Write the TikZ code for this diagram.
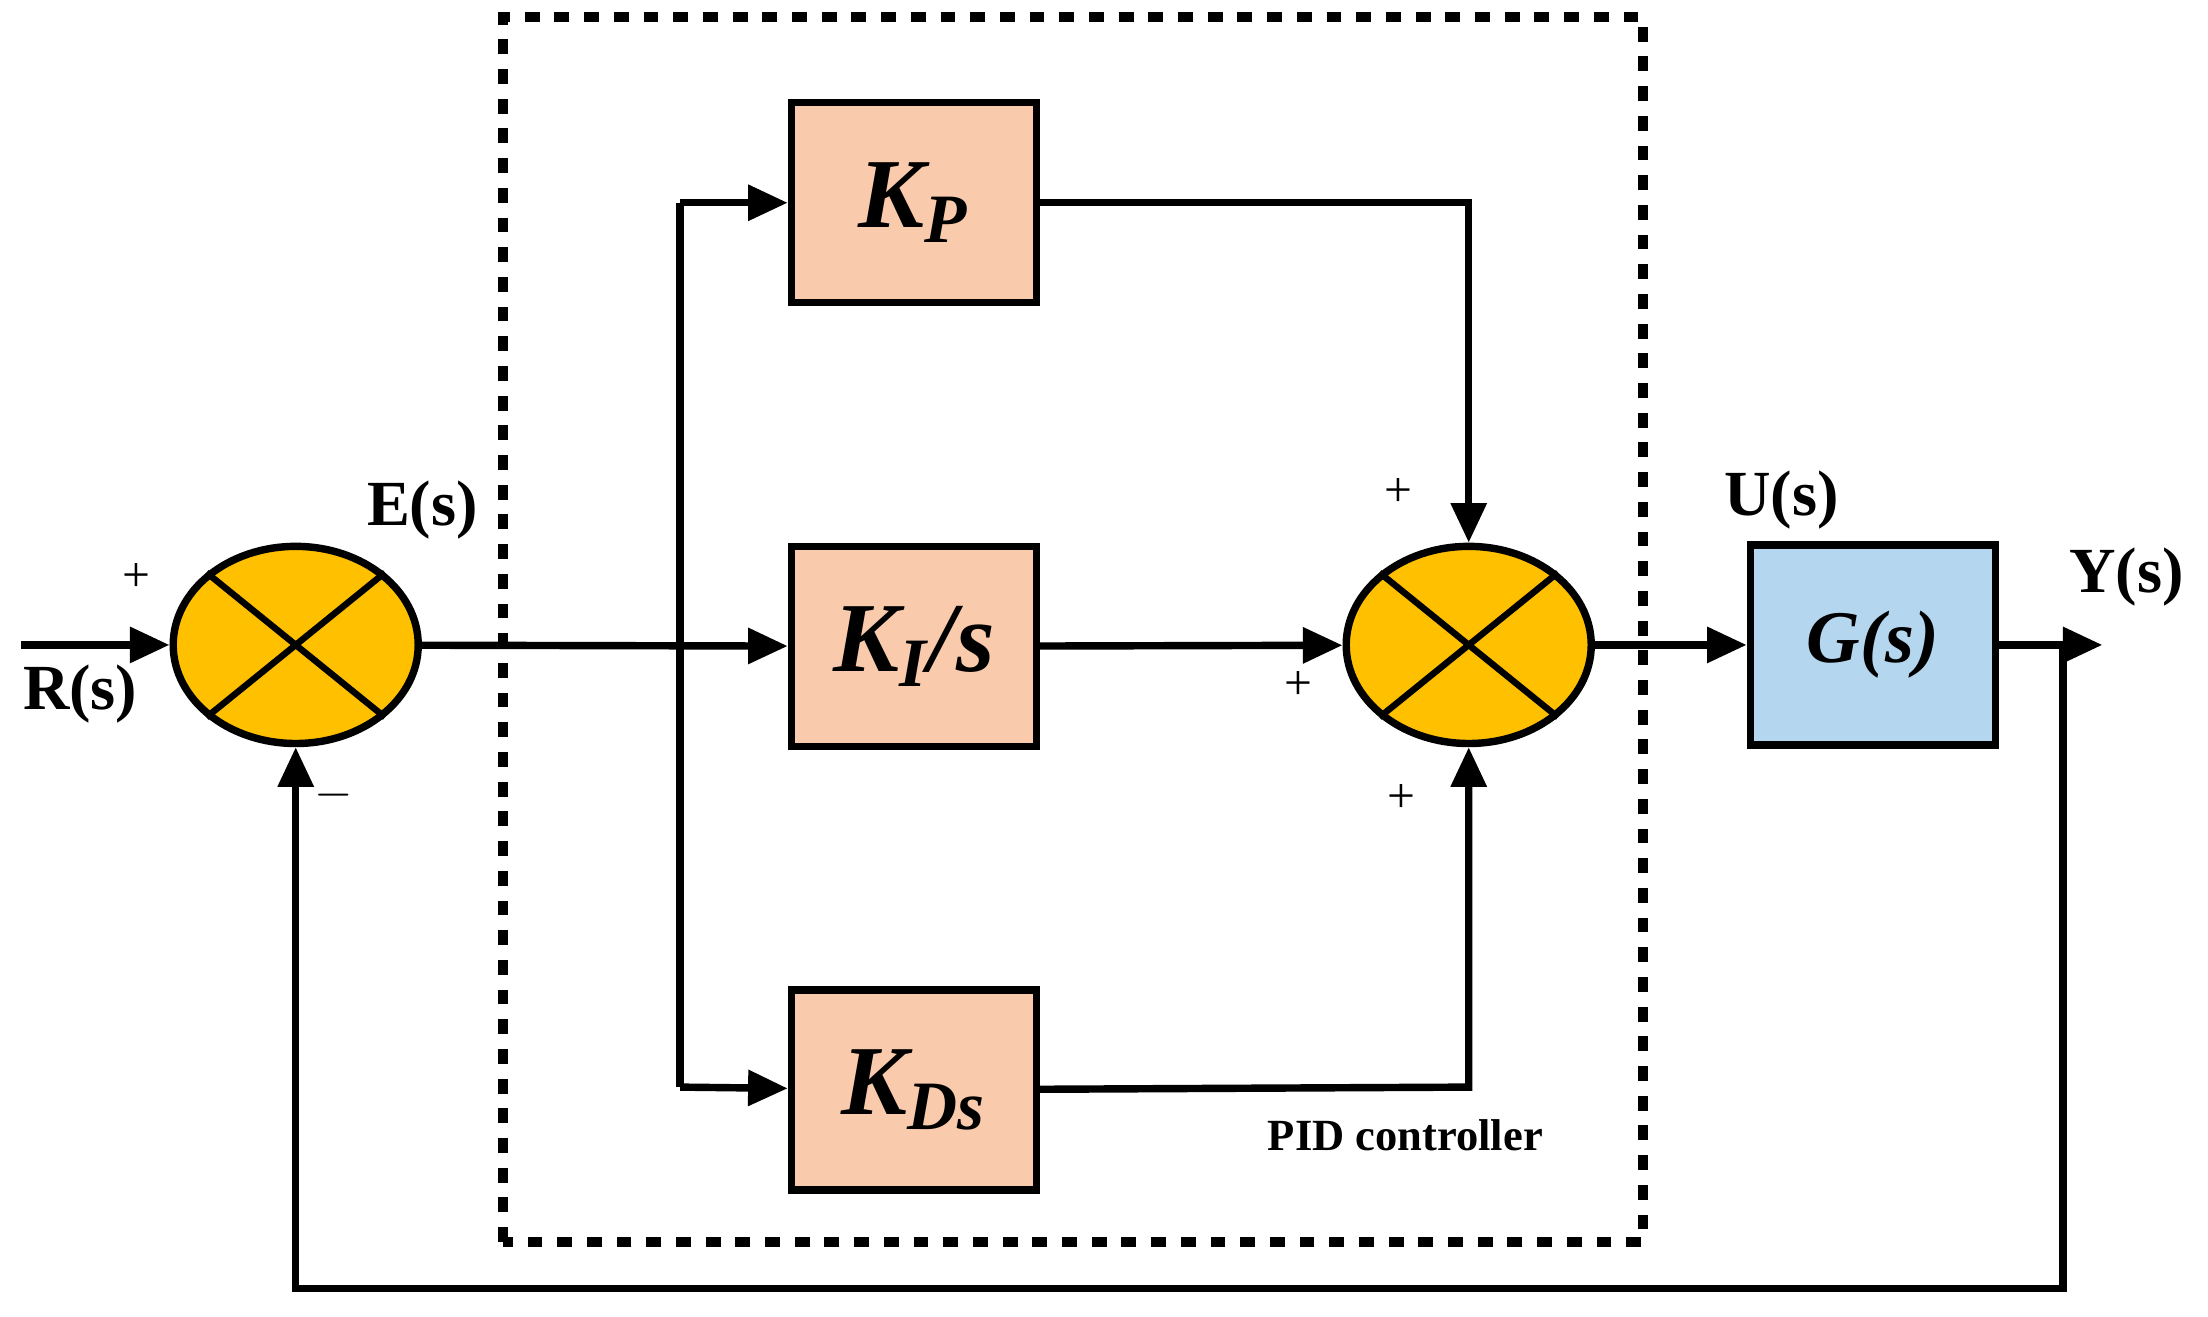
\documentclass[tikz,border=0pt]{standalone}
\usepackage{fontspec}
\setmainfont{Liberation Serif}
\usetikzlibrary{shapes.geometric,positioning,arrows.meta}
\definecolor{sumfill}{HTML}{FFC000}
\definecolor{gainfill}{HTML}{F9CBAC}
\definecolor{plantfill}{HTML}{B4D6EE}
\begin{document}
\begin{tikzpicture}[line width=1.5pt, >={Triangle[length=8pt,width=7pt]},
	sum/.style={ellipse, draw, fill=sumfill, minimum width=1.74cm, minimum height=1.4cm, inner sep=0pt},
	gain/.style={rectangle, draw, fill=gainfill, minimum width=1.74cm, minimum height=1.42cm, font=\fontsize{20}{22}\selectfont\bfseries\itshape},
	lbl/.style={font=\fontsize{13}{15}\selectfont\bfseries},
	sgn/.style={font=\fontsize{10}{12}\selectfont}]
		\useasboundingbox (0,0) rectangle (15.68,9.35);
		\draw[dashed, line width=2pt] (3.57,0.53) rectangle (11.67,9.23);
		
		\node[sum] (s1) at (2.10,4.77) {};
		\node[sum] (s2) at (10.43,4.77) {};
		\draw[line width=1.3pt] (s1.north west) -- (s1.south east) (s1.north east) -- (s1.south west);
		\draw[line width=1.3pt] (s2.north west) -- (s2.south east) (s2.north east) -- (s2.south west);
		
		\node[gain] (kp) at (6.49,7.91) {K\textsubscript{P}};
		\node[gain] (ki) at (6.49,4.76) {K\textsubscript{I}/s};
		\node[gain] (kd) at (6.49,1.61) {K\textsubscript{Ds}};
		\node[gain, fill=plantfill, font=\fontsize{15}{17}\selectfont\bfseries\itshape] (g) at (13.30,4.77) {G(s)};
		
		\coordinate (in) at (0.15,4.77);
		\coordinate (bt) at (4.83,7.91);
		\coordinate (bb) at (4.83,1.63);
		\coordinate (pc) at (10.43,7.91);
		\coordinate (dc) at (10.43,1.63);
		\coordinate (out) at (14.93,4.77);
		\coordinate (fb) at (14.65,4.77);
		\coordinate (fr) at (14.65,0.2);
		\coordinate (fl) at (2.10,0.2);
		
		\draw[->] (in) -- (s1);
		\draw[->] (s1) -- (ki);
		\draw (bb) -- (bt);
		\draw[->] (bt) -- (kp);
		\draw[->] (bb) -- (kd);
		\draw[->] (kp) -- (pc) -- (s2);
		\draw[->] (ki) -- (s2);
		\draw[->] (kd) -- (dc) -- (s2);
		\draw[->] (s2) -- (g);
		\draw[->] (g) -- (out);
		\draw[->] (fb) -- (fr) -- (fl) -- (s1);
		
		\node[lbl] at (0.57,4.42) {R(s)};
		\node[lbl] at (3.00,5.73) {E(s)};
		\node[lbl] at (12.65,5.80) {U(s)};
		\node[lbl] at (15.10,5.25) {Y(s)};
		\node[sgn] at (0.97,5.25) {+};
		\node[sgn] at (2.37,3.70) {$-$};
		\node[sgn] at (9.93,5.85) {+};
		\node[sgn] at (9.22,4.48) {+};
		\node[sgn] at (9.95,3.68) {+};
		\node[font=\fontsize{9}{11}\selectfont\bfseries] at (9.98,1.29) {PID controller};
		\end{tikzpicture}
\end{document}
